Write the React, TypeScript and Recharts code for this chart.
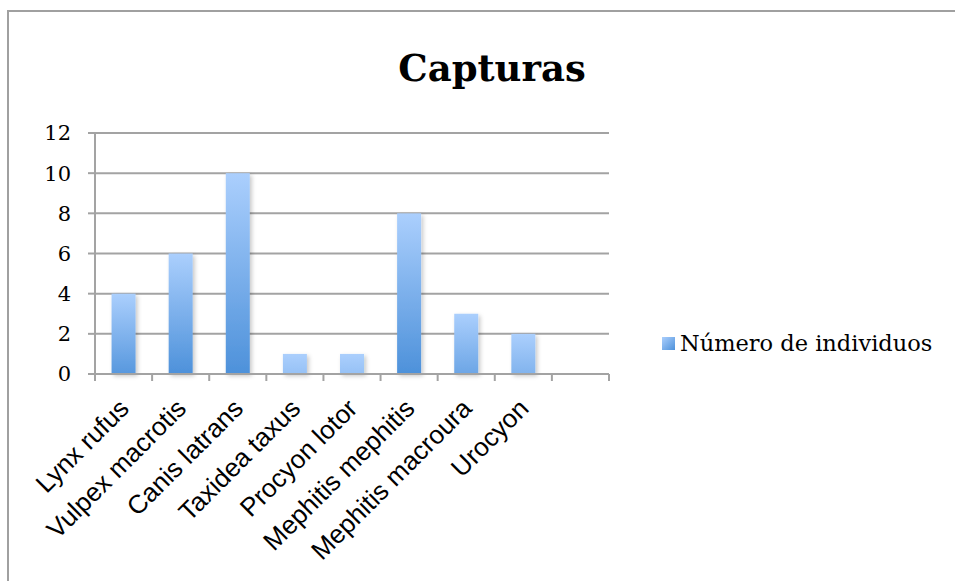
import React from 'react';
import { BarChart, Bar, XAxis, YAxis, CartesianGrid, Legend } from 'recharts';

const categories = ['Lynx rufus', 'Vulpex macrotis', 'Canis latrans', 'Taxidea taxus', 'Procyon lotor', 'Mephitis mephitis', 'Mephitis macroura', 'Urocyon', ''];
const individuos: (number | null)[] = [4, 6, 10, 1, 1, 8, 3, 2, null];
const yTicks = [0, 2, 4, 6, 8, 10, 12];
const seriesName = 'Número de individuos';
const title = 'Capturas';

const data = categories.map((c, i) => ({ name: c, value: individuos[i] }));

const GRID = '#a3a3a3';
const TOP = '#abcffd';
const BOTTOM = '#4d91da';

const XTick = (props: any) => {
  const { x, y, payload, index, width, visibleTicksCount } = props;
  const band = width && visibleTicksCount ? width / visibleTicksCount : 0;
  const ax = x + 7;
  const ay = y + 36;
  return (
    <g>
      {band > 0 && (
        <line x1={x - band / 2} x2={x - band / 2} y1={y} y2={y + 7} stroke={GRID} strokeWidth={2} />
      )}
      {band > 0 && index === visibleTicksCount - 1 && (
        <line x1={x + band / 2} x2={x + band / 2} y1={y} y2={y + 7} stroke={GRID} strokeWidth={2} />
      )}
      <text
        x={ax}
        y={ay}
        transform={`rotate(-45, ${ax}, ${ay})`}
        textAnchor="end"
        fontFamily="'Liberation Sans', Arial, sans-serif"
        fontSize={26}
        fill="#000"
      >
        {payload.value}
      </text>
    </g>
  );
};

const renderBar = (props: any) => {
  const x = Number(props.x);
  const y = Number(props.y);
  const width = Number(props.width);
  const height = Number(props.height);
  const index = props.index;
  if (!(height > 0)) return <g />;
  const id = `barGrad${index}`;
  const fid = `barShadow${index}`;
  const span = Math.max(height, 90);
  return (
    <g>
      <defs>
        <linearGradient id={id} gradientUnits="userSpaceOnUse" x1={0} x2={0} y1={y} y2={y + span}>
          <stop offset="0%" stopColor={TOP} />
          <stop offset="100%" stopColor={BOTTOM} />
        </linearGradient>
        <filter id={fid} x="-30%" y="-20%" width="170%" height="150%">
          <feDropShadow dx={2} dy={2} stdDeviation={2} floodColor="#000" floodOpacity={0.22} />
        </filter>
      </defs>
      <rect x={x} y={y} width={width} height={height} fill={`url(#${id})`} filter={`url(#${fid})`} />
    </g>
  );
};

const LegendContent = () => (
  <div style={{ display: 'flex', alignItems: 'center', whiteSpace: 'nowrap' }}>
    <div
      style={{
        width: 13,
        height: 13,
        background: `linear-gradient(135deg, ${TOP}, ${BOTTOM})`,
        marginRight: 5,
      }}
    />
    <span style={{ fontFamily: "'DejaVu Serif', serif", fontSize: 22.5, color: '#000' }}>{seriesName}</span>
  </div>
);

export default function App() {
  return (
    <div style={{ position: 'absolute', left: 0, top: 0, width: 955, height: 581, background: '#fff', overflow: 'hidden' }}>
      <div
        style={{
          position: 'absolute',
          left: 7,
          top: 10,
          width: 1000,
          height: 700,
          border: '2px solid #a0a0a0',
          boxSizing: 'border-box',
        }}
      />
      <div
        style={{
          position: 'absolute',
          left: 392,
          top: 40,
          width: 200,
          textAlign: 'center',
          fontFamily: "'DejaVu Serif', serif",
          fontWeight: 'bold',
          fontSize: 37,
          color: '#000',
          lineHeight: '56px',
        }}
      >
        {title}
      </div>
      <div style={{ position: 'absolute', left: 0, top: 0 }}>
        <BarChart
          width={955}
          height={581}
          data={data}
          margin={{ top: 133, right: 346, bottom: 0, left: 0 }}
          barCategoryGap="29%"
        >
          <CartesianGrid vertical={false} stroke={GRID} strokeWidth={2} />
          <YAxis
            width={95}
            domain={[0, 12]}
            ticks={yTicks}
            interval={0}
            axisLine={{ stroke: GRID, strokeWidth: 2 }}
            tickLine={{ stroke: GRID, strokeWidth: 2 }}
            tickSize={7}
            tickMargin={17}
            tick={{ fontFamily: "'DejaVu Serif', serif", fontSize: 21, fill: '#000' }}
          />
          <XAxis
            dataKey="name"
            height={207}
            interval={0}
            axisLine={{ stroke: GRID, strokeWidth: 2 }}
            tickLine={false}
            tickSize={0}
            tickMargin={0}
            tick={<XTick />}
          />
          <Bar dataKey="value" name={seriesName} fill={BOTTOM} shape={renderBar} isAnimationActive={false} />
          <Legend
            layout="vertical"
            align="center"
            verticalAlign="middle"
            content={<LegendContent />}
            wrapperStyle={{ left: 662, top: 330, width: 290, height: 30 }}
          />
        </BarChart>
      </div>
    </div>
  );
}
